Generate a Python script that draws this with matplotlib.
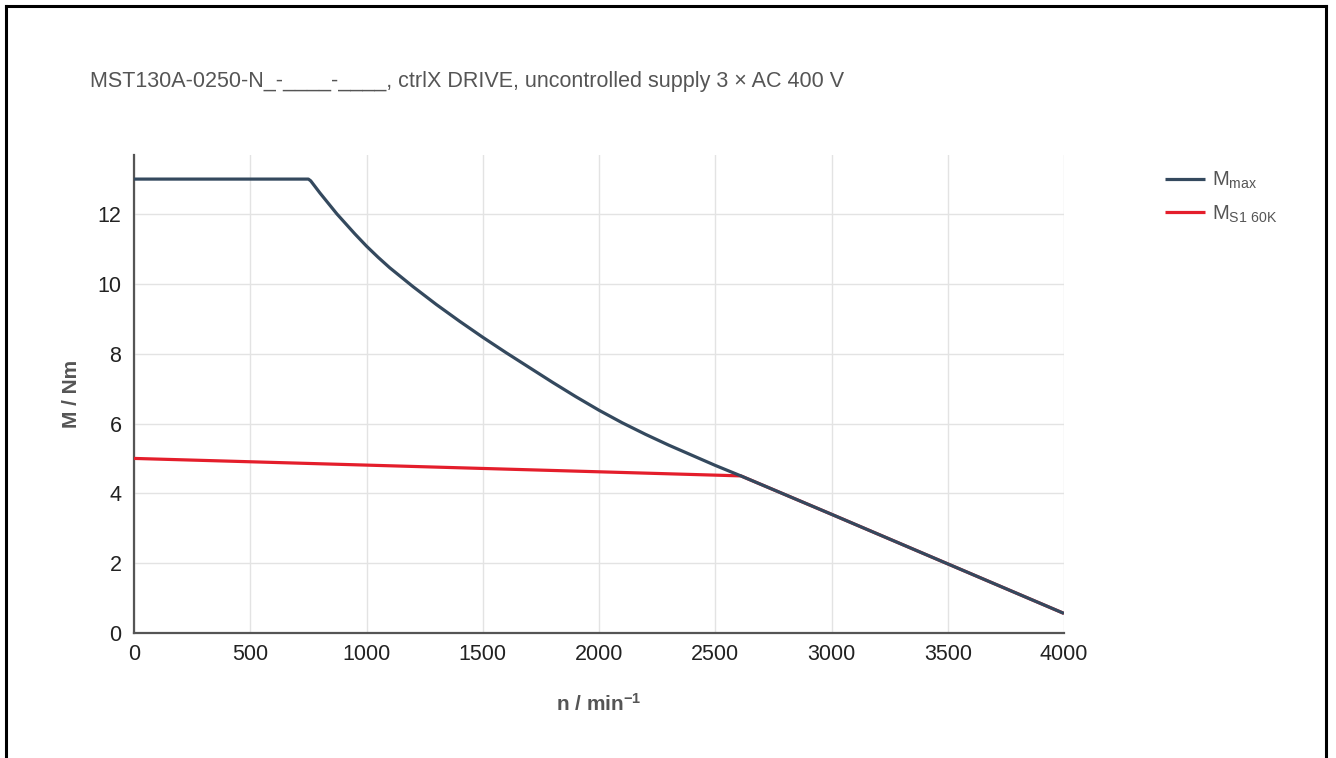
import matplotlib
matplotlib.use("Agg")
import matplotlib.pyplot as plt
from matplotlib.lines import Line2D

plt.rcParams['font.family'] = ['Liberation Sans', 'DejaVu Sans']
plt.rcParams['mathtext.default'] = 'regular'

title = "MST130A-0250-N_-____-____, ctrlX DRIVE, uncontrolled supply 3 \u00d7 AC 400 V"

mmax_n = [0, 750, 760, 800, 873, 900, 950, 1000, 1050, 1100, 1200, 1300, 1400, 1500, 1600,
          1800, 1900, 2000, 2100, 2200, 2300, 2400, 2500, 2610, 3000, 3500, 4000]
mmax_m = [13.0, 13.0, 12.95, 12.6, 12.0, 11.8, 11.43, 11.08, 10.76, 10.46, 9.92, 9.41, 8.93, 8.47, 8.03,
          7.18, 6.77, 6.38, 6.02, 5.69, 5.38, 5.09, 4.8, 4.5, 3.4, 1.98, 0.56]

ms1_n = [0, 2610, 3000, 3500, 4000]
ms1_m = [5.0, 4.5, 3.4, 1.98, 0.56]

xticks = [0, 500, 1000, 1500, 2000, 2500, 3000, 3500, 4000]
yticks = [0, 2, 4, 6, 8, 10, 12]

fig = plt.figure(figsize=(13.36, 7.58), dpi=100)
ax = fig.add_axes([134/1336, 125/758, 930/1336, 478/758])

ax.plot(ms1_n, ms1_m, color='#E41E2B', lw=2.3, label=r'M$_{S1\ 60K}$', zorder=3, solid_capstyle='butt')
ax.plot(mmax_n, mmax_m, color='#34495E', lw=2.3, label=r'M$_{max}$', zorder=4, solid_capstyle='butt')

ax.set_xlim(0, 4000)
ax.set_ylim(0, 13.69)
ax.set_xticks(xticks)
ax.set_yticks(yticks)
ax.tick_params(axis='both', length=0, labelsize=15.5, colors='#222222', pad=8)
ax.tick_params(axis='y', pad=9)
ax.grid(True, color='#e3e3e3', lw=1)
ax.set_axisbelow(True)
for s in ['top', 'right']:
    ax.spines[s].set_visible(False)
for s in ['left', 'bottom']:
    ax.spines[s].set_color('#555555')
    ax.spines[s].set_linewidth(1.6)

ax.set_xlabel(r'n / min$^{-1}$', fontsize=15, fontweight='bold', color='#555555', labelpad=20)
ax.set_ylabel('M / Nm', fontsize=15, fontweight='bold', color='#555555', labelpad=12)

handles, labels = ax.get_legend_handles_labels()
leg = fig.legend(handles[::-1], labels[::-1], loc='upper left', bbox_to_anchor=(1165/1336, 1 - 170/758),
                 frameon=False, fontsize=14.5, handlelength=2.0, handletextpad=0.35, labelspacing=0.6,
                 borderaxespad=0, borderpad=0)
for t in leg.get_texts():
    t.set_color('#555555')

fig.text(90/1336, 1 - 81/758, title, fontsize=15.5, color='#555555', va='center', ha='left')

for (x0, y0, x1, y1) in [(6/1336, 0, 6/1336, 1 - 6/758), (6/1336, 1 - 6/758, 1326/1336, 1 - 6/758),
                         (1326/1336, 1 - 6/758, 1326/1336, 0)]:
    fig.add_artist(Line2D([x0, x1], [y0, y1], color='black', lw=2.2, transform=fig.transFigure))

fig.savefig('out.png', dpi=100)
